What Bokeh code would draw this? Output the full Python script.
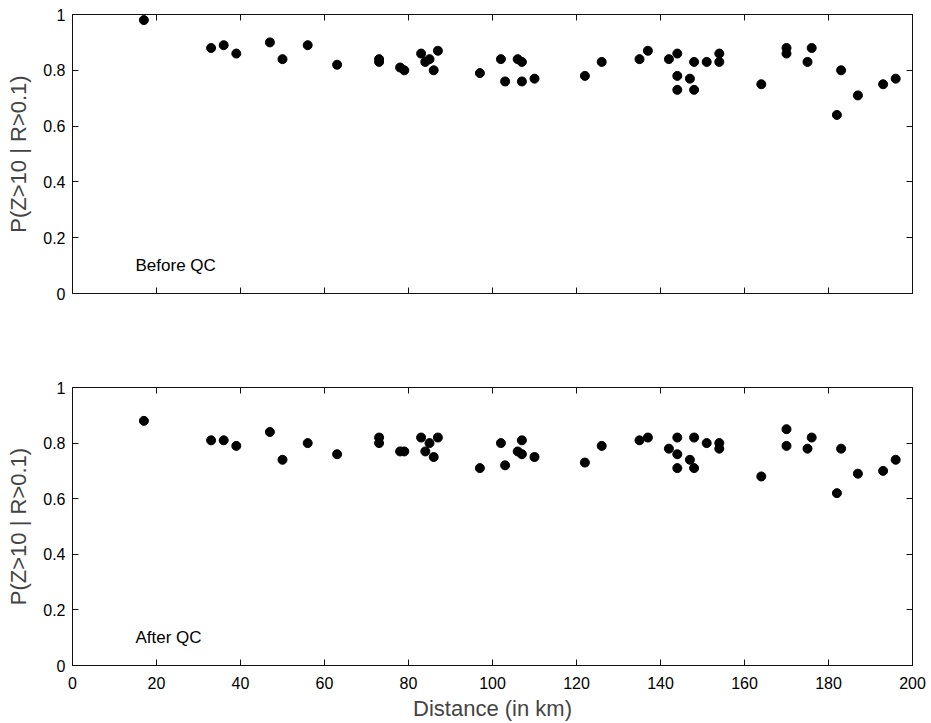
from bokeh.plotting import figure
from bokeh.layouts import column
from bokeh.models import LinearAxis, Range1d, FixedTicker, Label
from bokeh.embed import file_html
from bokeh.resources import INLINE

# Distance of each station (km)
distance = [17, 33, 36, 39, 47, 50, 56, 63, 73, 73, 78, 79, 83, 84, 85, 86, 87,
            97, 102, 103, 106, 107, 107, 110, 122, 126, 135, 137, 142, 144, 144,
            144, 147, 148, 148, 151, 154, 154, 164, 170, 170, 175, 176, 182, 183,
            187, 193, 196]

# P(Z>10 | R>0.1) before quality control
p_before = [0.98, 0.88, 0.89, 0.86, 0.90, 0.84, 0.89, 0.82, 0.84, 0.83, 0.81, 0.80,
            0.86, 0.83, 0.84, 0.80, 0.87, 0.79, 0.84, 0.76, 0.84, 0.83, 0.76, 0.77,
            0.78, 0.83, 0.84, 0.87, 0.84, 0.86, 0.78, 0.73, 0.77, 0.83, 0.73, 0.83,
            0.86, 0.83, 0.75, 0.88, 0.86, 0.83, 0.88, 0.64, 0.80, 0.71, 0.75, 0.77]

# P(Z>10 | R>0.1) after quality control
p_after = [0.88, 0.81, 0.81, 0.79, 0.84, 0.74, 0.80, 0.76, 0.82, 0.80, 0.77, 0.77,
           0.82, 0.77, 0.80, 0.75, 0.82, 0.71, 0.80, 0.72, 0.77, 0.81, 0.76, 0.75,
           0.73, 0.79, 0.81, 0.82, 0.78, 0.82, 0.76, 0.71, 0.74, 0.82, 0.71, 0.80,
           0.80, 0.78, 0.68, 0.85, 0.79, 0.78, 0.82, 0.62, 0.78, 0.69, 0.70, 0.74]

x_ticks = [0, 20, 40, 60, 80, 100, 120, 140, 160, 180, 200]
y_ticks = [0, 0.2, 0.4, 0.6, 0.8, 1]
y_tick_labels = {0: "0", 0.2: "0.2", 0.4: "0.4", 0.6: "0.6", 0.8: "0.8", 1: "1"}

FONT = "Liberation Sans"
YLABEL = "P(Z>10 | R>0.1)"


def style_axis(ax, ticks, show_labels):
    ax.axis_line_color = "#111111"
    ax.axis_line_width = 1
    ax.major_tick_in = 6
    ax.major_tick_out = 0
    ax.major_tick_line_color = "#111111"
    ax.minor_tick_line_color = None
    ax.major_label_text_font = FONT
    ax.major_label_text_color = "black"
    ax.major_label_text_font_size = "16px"
    if not show_labels:
        ax.major_label_overrides = {t: "" for t in ticks}
        ax.major_label_standoff = 0


def make_panel(yvals, tag, height, top, bottom, show_xlabels):
    p = figure(width=931, height=height,
               x_range=Range1d(0, 200), y_range=Range1d(0, 1),
               output_backend="svg", toolbar_location=None,
               x_axis_location=None, y_axis_location=None,
               min_border_left=72, min_border_right=19,
               min_border_top=top, min_border_bottom=bottom)
    p.outline_line_color = None
    p.xgrid.grid_line_color = None
    p.ygrid.grid_line_color = None
    p.background_fill_color = "white"
    p.border_fill_color = "white"

    # left axis
    ly = LinearAxis(ticker=FixedTicker(ticks=y_ticks))
    style_axis(ly, y_ticks, True)
    ly.major_label_overrides = y_tick_labels
    ly.major_label_standoff = 7
    ly.axis_label = YLABEL
    ly.axis_label_text_font = FONT
    ly.axis_label_text_font_size = "22px"
    ly.axis_label_text_font_style = "normal"
    ly.axis_label_standoff = 9
    p.add_layout(ly, "left")

    # right axis (ticks only)
    ry = LinearAxis(ticker=FixedTicker(ticks=y_ticks))
    style_axis(ry, y_ticks, False)
    p.add_layout(ry, "right")

    # bottom axis
    bx = LinearAxis(ticker=FixedTicker(ticks=x_ticks))
    style_axis(bx, x_ticks, show_xlabels)
    if show_xlabels:
        bx.major_label_standoff = 11
        bx.axis_label = "Distance (in km)"
        bx.axis_label_text_font = FONT
        bx.axis_label_text_font_size = "22px"
        bx.axis_label_text_font_style = "normal"
        bx.axis_label_standoff = 4
    p.add_layout(bx, "below")

    # top axis (ticks only)
    tx = LinearAxis(ticker=FixedTicker(ticks=x_ticks))
    style_axis(tx, x_ticks, False)
    p.add_layout(tx, "above")

    p.scatter(distance, yvals, size=9, color="black", line_color="black")

    p.add_layout(Label(x=15, y=0.1, text=tag, text_font=FONT,
                       text_font_size="17px", text_baseline="middle",
                       text_align="left", text_color="black"))
    return p


p1 = make_panel(p_before, "Before QC", 332, 14, 39, False)
p2 = make_panel(p_after, "After QC", 391, 55, 57, True)

layout = column(p1, p2, spacing=0)
open("out.html", "w").write(file_html(layout, INLINE))
